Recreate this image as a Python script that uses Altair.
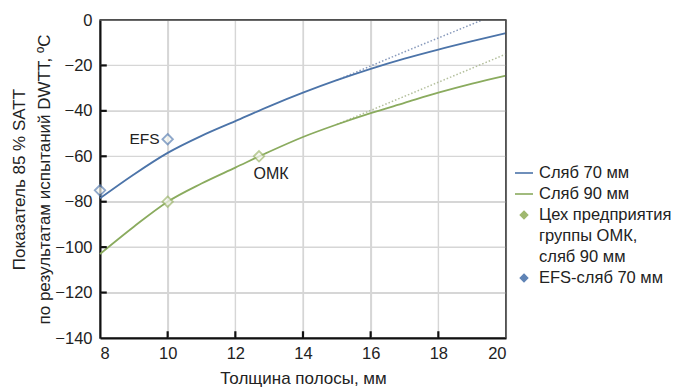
import altair as alt
import pandas as pd

# ---- data ----
thickness = [8, 9, 10, 11, 12, 13, 14, 15, 16, 17, 18, 19, 20]
slab70 = [-78.5, -68, -58.5, -51, -44.5, -38, -32, -26.5, -21.5, -17, -13, -9.3, -5.8]
slab90 = [-103, -91, -80, -72, -65, -58, -51.5, -46, -41, -36.5, -32, -28, -24.5]

ext70_x = [15, 17, 19.3]
ext70_y = [-26.5, -14, 0]
ext90_x = [15, 17.5, 20]
ext90_y = [-46, -30.5, -15]

omk_x = [10, 12.7]
omk_y = [-80, -60]
efs_x = [8, 10]
efs_y = [-75, -52.5]

# legend rows (the long entry is wrapped over three rows)
legend_rows = ["Сляб 70 мм", "Сляб 90 мм", "Цех предприятия", "группы  ОМК,",
               "сляб 90 мм", "EFS-сляб 70 мм"]
legend_colors = ["#4c74a9", "#8aab5e", "#9fb86e", "transparent", "transparent", "#5f83b5"]

x_domain = [8, 20]
y_domain = [-140, 0]
y_ticks = [-140, -120, -100, -80, -60, -40, -20, 0]
x_ticks = [8, 10, 12, 14, 16, 18, 20]

W, H = 406, 318
FONT = "Liberation Sans"
DIAMOND = "M0,-0.4L0.4,0L0,0.4L-0.4,0Z"
TICK_X = 0.2   # tick length along x, in axis units (style)
TICK_Y = 3.0   # tick length along y, in axis units (style)

lines_df = pd.concat([
    pd.DataFrame({"t": thickness, "v": slab70, "s": legend_rows[0]}),
    pd.DataFrame({"t": thickness, "v": slab90, "s": legend_rows[1]}),
])
ext70_df = pd.DataFrame({"t": ext70_x, "v": ext70_y})
ext90_df = pd.DataFrame({"t": ext90_x, "v": ext90_y})
pts_df = pd.concat([
    pd.DataFrame({"t": omk_x, "v": omk_y, "s": legend_rows[2]}),
    pd.DataFrame({"t": efs_x, "v": efs_y, "s": legend_rows[5]}),
])
ann_df = pd.DataFrame({"t": [10, 12.7], "v": [-52.5, -60], "lab": ["EFS", "ОМК"]})

xscale = alt.Scale(domain=x_domain, nice=False, zero=False)
yscale = alt.Scale(domain=y_domain, nice=False, zero=False)

x_axis = alt.Axis(values=x_ticks, title="Толщина полосы, мм", ticks=False, grid=True,
                  gridColor="#d6d6d6", gridWidth=1.2,
                  labelPadding=7, titlePadding=9, domainColor="#111", domainWidth=2)
y_axis = alt.Axis(values=y_ticks, title=["Показатель 85 % SATT", "по результатам испытаний DWTT, ºC"],
                  ticks=False, grid=True, gridColor="#d6d6d6", gridWidth=1.2,
                  labelPadding=8, titlePadding=1, titleLineHeight=25,
                  domainColor="#111", domainWidth=2)

X = alt.X("t:Q", scale=xscale, axis=x_axis)
Y = alt.Y("v:Q", scale=yscale, axis=y_axis)

color_scale = alt.Scale(domain=legend_rows, range=legend_colors)
shape_scale = alt.Scale(domain=legend_rows,
                        range=["stroke", "stroke", DIAMOND, DIAMOND, DIAMOND, DIAMOND])

legend = alt.Legend(title=None, orient="none", legendX=414, legendY=143,
                    labelFont=FONT, labelFontSize=16.5, labelColor="#222",
                    symbolSize=324, symbolStrokeWidth=1.6,
                    rowPadding=2, labelOffset=5, labelLimit=300)


def seg(xs, ys, color, width):
    df = pd.DataFrame({"t": [float(x) + 0.0001 * i for i, x in enumerate(xs)],
                       "v": [float(y) for y in ys]})
    return alt.Chart(df).mark_line(color=color, strokeWidth=width).encode(x=X, y=Y)


grid_layers = [seg(x_domain, [v, v], "#d6d6d6", 1.2) for v in y_ticks[1:-1]]
grid_layers += [seg([t, t], y_domain, "#d6d6d6", 1.2) for t in x_ticks[1:-1]]
frame_layers = [
    seg(x_domain, [y_domain[1], y_domain[1]], "#444", 1.5),
    seg([x_domain[1], x_domain[1]], y_domain, "#444", 1.5),
]
tick_layers = [seg([x_domain[0], x_domain[0] + TICK_X], [v, v], "#111", 2.2) for v in y_ticks[1:-1]]
tick_layers += [seg([t, t], [y_domain[0], y_domain[0] + TICK_Y], "#111", 2.2) for t in x_ticks[1:-1]]

ext70 = alt.Chart(ext70_df).mark_line(strokeWidth=1.5, strokeDash=[1.5, 2], color="#8799bb").encode(x=X, y=Y)
ext90 = alt.Chart(ext90_df).mark_line(strokeWidth=1.5, strokeDash=[1.5, 2], color="#b3bf9c").encode(x=X, y=Y)

lines = alt.Chart(lines_df).mark_line(strokeWidth=1.8, interpolate="monotone").encode(
    x=X, y=Y,
    color=alt.Color("s:N", scale=color_scale, legend=legend),
    shape=alt.Shape("s:N", scale=shape_scale, legend=legend),
)

pts = alt.Chart(pts_df).mark_point(filled=False, fill="#f6f7f0", size=690, strokeWidth=1.8).encode(
    x=X, y=Y,
    color=alt.Color("s:N", scale=color_scale, legend=legend),
    shape=alt.Shape("s:N", scale=shape_scale, legend=legend),
)

ann_efs = alt.Chart(ann_df[ann_df.lab == "EFS"]).mark_text(
    align="right", baseline="middle", dx=-8, font=FONT, fontSize=15.5, color="#222"
).encode(x=X, y=Y, text="lab:N")
ann_omk = alt.Chart(ann_df[ann_df.lab == "ОМК"]).mark_text(
    align="center", baseline="middle", dx=12, dy=18, font=FONT, fontSize=16, color="#222"
).encode(x=X, y=Y, text="lab:N")

chart = alt.layer(*grid_layers, ext70, ext90, lines, pts, ann_efs, ann_omk,
                  *frame_layers, *tick_layers).properties(
    width=W, height=H,
    padding={"left": 10, "top": 12, "right": 5, "bottom": 5},
    background="white",
).configure_view(
    stroke="#444", strokeWidth=1.5
).configure_axis(
    labelFont=FONT, labelFontSize=16.5, labelColor="#222",
    titleFont=FONT, titleFontSize=17, titleColor="#222", titleFontWeight="normal",
)

chart.save("out.html", embed_options={"renderer": "svg", "actions": False})
